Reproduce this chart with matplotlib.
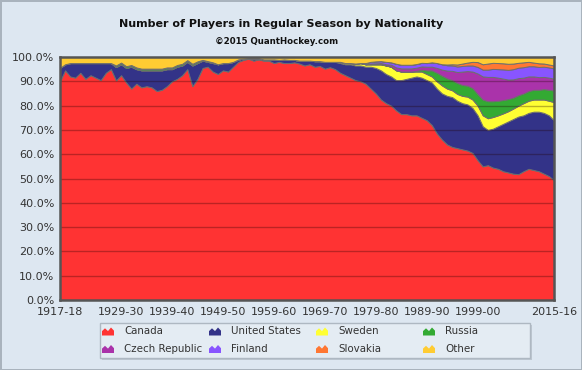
import matplotlib
matplotlib.use("Agg")
import matplotlib.pyplot as plt
from matplotlib.patches import Rectangle, Polygon
import numpy as np

# seasons 1917-18 .. 2015-16 (2004-05 lockout has no data)
seasons = [f"{y}-{str(y + 1)[-2:]}" for y in range(1917, 2016) if y != 2004]

# share of players by nationality, in percent
canada = [90, 94.5, 92, 91.5, 93.5, 91, 92.5, 91.5, 90.5, 93.5,
          95, 91, 92.5, 89.5, 87, 89, 87.5, 88, 87.5, 86,
          86.5, 88, 90, 91, 92.5, 95, 88, 91, 95.5, 96,
          94, 93, 94.5, 94, 96, 98, 98.8, 99.3, 98.5, 99,
          98.5, 98.5, 97.5, 98, 97.5, 97.5, 97.8, 97.3, 96.5, 97,
          96, 96.3, 95.2, 95.8, 95, 93.5, 92.5, 91.5, 90.5, 90,
          89, 87, 85, 82.5, 81, 80, 78, 76.5, 76.5, 76,
          76, 75, 74, 72, 68.5, 66, 64, 63, 62.5, 62,
          61.5, 60.5, 57.5, 55, 55.5, 54.5, 54, 53, 52.5, 52,
          51.8, 53, 54, 53.5, 53, 52, 51, 49]
usa = [5.5, 2.5, 5.5, 6, 4, 6.5, 5, 6, 7, 4,
       2.5, 5.5, 4.5, 6, 9, 6, 7, 6.5, 7, 8.5,
       8, 7, 5, 5, 4, 3, 8.5, 6.5, 3, 2,
       3.5, 4, 3, 3.5, 2, 1, 0.5, 0.2, 1, 0.5,
       0.5, 0.5, 1.5, 0.8, 1.5, 1.3, 1, 1.2, 2, 1.5,
       2.3, 2, 2.8, 2.2, 3, 4, 4.5, 5.5, 6, 6.5,
       7, 9, 10.5, 12, 12, 12, 12.5, 14, 14.5, 15.5,
       16, 16.5, 16.5, 17.5, 18.5, 19, 20, 20.5, 19.5, 19,
       19, 18.5, 18.5, 16.5, 14.5, 16, 17.5, 19.5, 21, 22.5,
       23.7, 23, 23, 24, 24.5, 25, 25, 24.5]
sweden = [0, 0, 0, 0, 0, 0, 0, 0, 0, 0,
          0, 0, 0, 0, 0, 0, 0, 0, 0, 0,
          0, 0, 0, 0, 0, 0, 0, 0, 0, 0,
          0, 0, 0, 0, 0, 0, 0, 0, 0, 0,
          0, 0, 0, 0, 0, 0, 0, 0, 0, 0,
          0, 0, 0, 0, 0, 0.5, 0.5, 0.5, 0.8, 1,
          1, 1, 1.5, 2.5, 3.5, 4, 4, 3.5, 3, 2.5,
          2, 2.5, 2.5, 2.5, 3, 3.3, 3, 2.8, 2.8, 3,
          3.2, 3.5, 4, 4.5, 4.8, 4.8, 4.5, 4.3, 4.2, 4.3,
          4.5, 5, 5, 5, 5, 5.5, 6, 7.5]
russia = [0, 0, 0, 0, 0, 0, 0, 0, 0, 0,
          0, 0.7, 0.7, 0.7, 0.7, 0.7, 0.7, 0.7, 0.7, 0.7,
          0.7, 0.7, 0.7, 0.7, 0.7, 0.7, 0.7, 0.7, 0.3, 0.3,
          0.3, 0, 0, 0, 0, 0, 0, 0, 0, 0,
          0, 0, 0, 0, 0, 0, 0, 0, 0, 0,
          0, 0, 0, 0, 0, 0, 0, 0, 0, 0,
          0, 0, 0, 0, 0, 0, 0, 0, 0, 0,
          0.3, 0.8, 1.5, 2.5, 3.5, 4, 4.2, 4.2, 4.5, 4.5,
          4.5, 4.7, 4.7, 6.5, 7, 6.5, 6, 5.5, 5, 4.5,
          4.3, 4, 4, 4, 4, 4.3, 4.5, 4.8]
czech = [0, 0, 0, 0, 0, 0, 0, 0, 0, 0,
         0, 0, 0, 0, 0, 0, 0, 0, 0, 0,
         0, 0, 0, 0, 0, 0, 0, 0, 0, 0,
         0, 0, 0, 0, 0, 0, 0, 0, 0, 0,
         0, 0, 0, 0, 0, 0, 0, 0, 0, 0,
         0, 0, 0, 0, 0, 0, 0, 0, 0, 0,
         0, 0.3, 0.4, 0.5, 0.5, 0.8, 1.2, 1.3, 1.3, 1.3,
         1.3, 1.3, 1.5, 1.5, 2, 2.5, 3.2, 3.8, 4.5, 5.5,
         6, 6.8, 8.5, 9.5, 10, 10, 9.5, 8.8, 8, 7.5,
         7, 6.5, 6, 5.5, 5.2, 5, 5, 4.8]
finland = [0, 0, 0, 0, 0, 0, 0, 0, 0, 0,
           0, 0, 0, 0, 0, 0, 0, 0, 0, 0,
           0, 0, 0, 0, 0, 0, 0, 0, 0, 0,
           0, 0, 0, 0, 0, 0, 0, 0, 0, 0,
           0, 0, 0, 0, 0, 0, 0, 0, 0, 0,
           0, 0, 0, 0, 0, 0, 0, 0, 0, 0,
           0.5, 0.7, 0.8, 0.8, 1, 1, 1.5, 1.5, 1.5, 1.5,
           1.5, 1.5, 1.5, 1.8, 2, 2.2, 2.2, 2.2, 2.3, 2.3,
           2.3, 2.5, 2.7, 2.8, 3, 3.3, 3.5, 3.8, 4, 4.2,
           4.3, 4.3, 4.2, 4.2, 4.2, 4.2, 4.2, 4.2]
slovakia = [0, 0, 0, 0, 0, 0, 0, 0, 0, 0,
            0, 0, 0, 0, 0, 0, 0, 0, 0, 0,
            0, 0, 0, 0, 0, 0, 0, 0, 0, 0,
            0, 0, 0, 0, 0, 0, 0, 0, 0, 0,
            0, 0, 0, 0, 0, 0, 0, 0, 0, 0,
            0, 0, 0, 0, 0, 0, 0, 0, 0, 0,
            0, 0, 0, 0, 0, 0, 0, 0, 0, 0,
            0, 0, 0, 0, 0, 0, 0.3, 0.5, 0.8, 1,
            1.2, 1.5, 2, 2.2, 2.5, 2.5, 2.5, 2.5, 2.5, 2.3,
            2, 2, 1.8, 1.5, 1.5, 1.3, 1.2, 1.2]
other = [4.5, 3, 2.5, 2.5, 2.5, 2.5, 2.5, 2.5, 2.5, 2.5,
         2.5, 3.5, 2.3, 3.8, 3.3, 4.3, 4.8, 4.8, 4.8, 4.8,
         4.8, 4.3, 4.3, 3.3, 2.8, 1.3, 2.8, 1.8, 1.2, 1.7,
         2.2, 3, 2.5, 2.5, 2, 1, 0.7, 0.5, 0.5, 0.5,
         1, 1, 1, 1.2, 1, 1.2, 1.2, 1.5, 1.5, 1.5,
         1.7, 1.7, 2, 2, 2, 2, 2.5, 2.5, 2.7, 2.5,
         2.5, 2, 1.8, 1.7, 2, 2.2, 2.8, 3.2, 3.2, 3.2,
         2.9, 2.4, 2.5, 2.2, 2.5, 3, 3.1, 3, 3.1, 2.7,
         2.3, 2, 2.1, 3, 2.7, 2.4, 2.5, 2.6, 2.8, 2.7,
         2.4, 2.2, 2, 2.3, 2.6, 2.7, 3.1, 3.5]

names = ["Canada", "United States", "Sweden", "Russia",
         "Czech Republic", "Finland", "Slovakia", "Other"]
colors = ["#FF3333", "#333388", "#FFFF33", "#33AA33",
          "#AA33AA", "#8855FF", "#FF7733", "#FFCC33"]
tick_labels = ["1917-18", "1929-30", "1939-40", "1949-50", "1959-60",
               "1969-70", "1979-80", "1989-90", "1999-00", "2015-16"]

data = np.array([canada, usa, sweden, russia, czech, finland, slovakia, other])
data = data / data.sum(axis=0) * 100  # percent stacked
x = np.arange(len(seasons))

bg = "#DDE7F1"
W, H = 582, 370
fig = plt.figure(figsize=(5.82, 3.70), dpi=100, facecolor=bg)
fig.patch.set_edgecolor("#A9B3BD")
fig.patch.set_linewidth(2)
ax = fig.add_axes([0.103, 0.189, 0.849, 0.657])
ax.set_facecolor(bg)

ax.stackplot(x, data, colors=colors, edgecolor="#6E6E6E", linewidth=0.7)

# grid drawn over the areas
for v in range(10, 100, 10):
    ax.axhline(v, color="#220000", alpha=0.3, linewidth=1, zorder=3)

ax.set_xlim(0, len(seasons) - 1)
ax.set_ylim(0, 100)
ax.set_yticks(range(0, 101, 10))
ax.set_yticklabels([f"{v:.1f}%" for v in range(0, 101, 10)])
ax.set_xticks([seasons.index(s) for s in tick_labels])
ax.set_xticklabels(tick_labels)
ax.tick_params(length=0, labelsize=8, colors="#333333")
ax.tick_params(axis="y", pad=4)
ax.tick_params(axis="x", pad=5)
for s in ax.spines.values():
    s.set_color("#555555")
    s.set_linewidth(1.8)
    s.set_zorder(5)

fig.text(0.483, 0.935, "Number of Players in Regular Season by Nationality",
         ha="center", va="center", fontsize=8, fontweight="bold", color="#111111")
fig.text(0.475, 0.887, "\u00a92015 QuantHockey.com",
         ha="center", va="center", fontsize=6.2, fontweight="bold", color="#111111")

# legend box drawn by hand: 4 equal columns, 2 rows
lx0, ly0, lw, lh = 100, 323, 430, 35
fig.patches.append(Rectangle(((lx0 + 2) / W, 1 - (ly0 + lh + 2) / H), lw / W, lh / H,
                             transform=fig.transFigure, facecolor="#A8B2BC",
                             edgecolor="none", alpha=0.6, zorder=1))
fig.patches.append(Rectangle((lx0 / W, 1 - (ly0 + lh) / H), lw / W, lh / H,
                             transform=fig.transFigure, facecolor="#E4ECF3",
                             edgecolor="#AEB8C2", linewidth=1, zorder=2))
icon = np.array([[0, 0], [0, 0.55], [0.25, 0.9], [0.5, 0.55], [0.75, 1.0],
                 [1, 0.6], [1, 0]])
order = [0, 4, 1, 5, 2, 6, 3, 7]
for k, i in enumerate(order):
    col, row = k // 2, k % 2
    px = 102 + col * 107
    py = 331.5 + row * 17.5
    pts = np.column_stack([(px + icon[:, 0] * 12) / W,
                           1 - (py + 4 - icon[:, 1] * 8) / H])
    fig.patches.append(Polygon(pts, closed=True, transform=fig.transFigure,
                               facecolor=colors[i], edgecolor="none", zorder=3))
    fig.text((px + 22) / W, 1 - py / H, names[i], ha="left", va="center",
             fontsize=7.4, color="#333333", zorder=4)

fig.savefig("out.png", dpi=100, facecolor=bg, edgecolor=fig.patch.get_edgecolor())
